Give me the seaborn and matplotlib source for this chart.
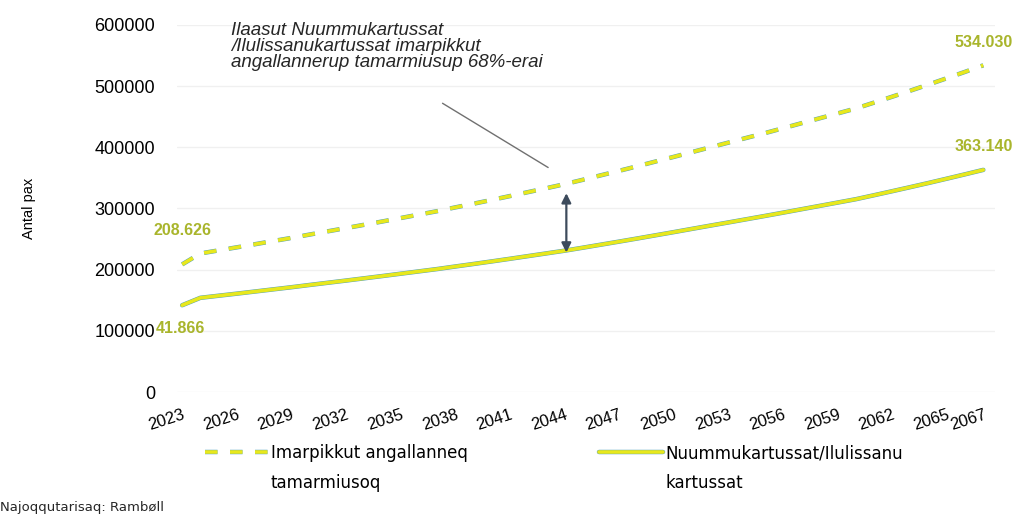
import numpy as np
import pandas as pd
import seaborn as sns
import matplotlib.pyplot as plt
from matplotlib.legend_handler import HandlerTuple

years = list(range(2023, 2068))

# Nuummukartussat / Ilulissanukartussat (solid line)
local_pax = [141866, 154000, 157400, 160800, 164300, 167800, 171300, 175000, 178600, 182200,
             185900, 189600, 193400, 197200, 201000, 205200, 209300, 213500, 217800, 222200,
             226600, 231000, 235900, 240900, 245900, 251000, 256200, 261400, 266700, 272000,
             277200, 282500, 287800, 293200, 298700, 304200, 309700, 315200, 321700, 328300,
             335000, 341800, 348800, 355900, 363140]

# Imarpikkut angallanneq tamarmiusoq (dashed line)
total_pax = [208626, 226500, 231500, 236500, 241600, 246800, 251900, 257400, 262700, 268000,
             273400, 278800, 284400, 290000, 295600, 301800, 307800, 314000, 320300, 326800,
             333200, 339700, 346900, 354300, 361600, 369100, 376800, 384400, 392200, 400000,
             407700, 415500, 423200, 431200, 439300, 447400, 455400, 463500, 473100, 482800,
             492700, 502700, 513000, 523400, 534030]

tick_years = [2023, 2026, 2029, 2032, 2035, 2038, 2041, 2044, 2047, 2050, 2053, 2056,
              2059, 2062, 2065, 2067]
y_ticks = [0, 100000, 200000, 300000, 400000, 500000, 600000]

label_total = ["Imarpikkut angallanneq", "tamarmiusoq"]
label_local = ["Nuummukartussat/Ilulissanu", "kartussat"]
note = "Ilaasut Nuummukartussat\n/Ilulissanukartussat imarpikkut\nangallannerup tamarmiusup 68%-erai"

df = pd.DataFrame({"year": years, "local": local_pax, "total": total_pax})

sns.set_style("white")
plt.rcParams["font.family"] = ["Liberation Sans", "DejaVu Sans"]
plt.rcParams["lines.scale_dashes"] = False

TEAL = "#4f9fbf"
YELLOW = "#e8e81c"
LABEL_COL = "#a9b52c"

fig = plt.figure(figsize=(10.24, 5.15), dpi=100)
ax = fig.add_axes([0.173, 0.2388, 0.799, 0.7127])

dash = (9, 9)
sns.lineplot(data=df, x="year", y="total", ax=ax, color=TEAL, lw=3.2)
sns.lineplot(data=df, x="year", y="total", ax=ax, color=YELLOW, lw=2.6)
sns.lineplot(data=df, x="year", y="local", ax=ax, color=TEAL, lw=3.2)
sns.lineplot(data=df, x="year", y="local", ax=ax, color=YELLOW, lw=2.6)
ax.lines[0].set_dashes(dash)
ax.lines[1].set_dashes(dash)

ax.set_xlim(2022.725, 2067.66)
ax.set_ylim(0, 600000)
ax.set_yticks(y_ticks)
ax.set_yticklabels([str(v) for v in y_ticks])
ax.set_xticks(tick_years)
ax.set_xticklabels([str(y) for y in tick_years], rotation=18, ha="right",
                   rotation_mode="anchor")
ax.tick_params(axis="y", labelsize=13, pad=16, length=0, labelcolor="black")
ax.tick_params(axis="x", labelsize=12, pad=11, length=0, labelcolor="black")
ax.grid(axis="y", color="#f0f0f0", lw=1)
ax.grid(axis="x", visible=False)
sns.despine(ax=ax, left=True, bottom=True)
ax.set_xlabel("")
ax.set_ylabel("Antal pax", fontsize=10.5, labelpad=42, color="black")

# value labels at start and end of the lines
ax.text(df["year"].iloc[0], df["total"].iloc[0] + 56000, "208.626", color=LABEL_COL,
        fontsize=11.5, fontweight="bold", ha="center", va="center")
ax.text(df["year"].iloc[-1], df["total"].iloc[-1] + 38000, "534.030", color=LABEL_COL,
        fontsize=11.5, fontweight="bold", ha="center", va="center")
ax.text(df["year"].iloc[-1], df["local"].iloc[-1] + 38000, "363.140", color=LABEL_COL,
        fontsize=11.5, fontweight="bold", ha="center", va="center")
# the leading "1" of 141.866 is hidden behind the tick label in the original
ax.text(df["year"].iloc[0] - 1.45, 104000, "41.866", color=LABEL_COL,
        fontsize=11.5, fontweight="bold", ha="left", va="center", clip_on=False)

# note with pointer and gap arrow
ax.text(2025.7, 565000, note, fontsize=13.5, style="italic", ha="left", va="center",
        linespacing=0.95)
ax.plot([2037.3, 2043.1], [472000, 367000], color="#707070", lw=1)
ax.annotate("", xy=(2044.1, 325000), xytext=(2044.1, 228000),
            arrowprops=dict(arrowstyle="<|-|>", color="#3d4b5c", lw=1.6,
                            mutation_scale=14, shrinkA=0, shrinkB=0))

# legend below the plot (first line in the legend, second line as text)
h_total = (ax.lines[0], ax.lines[1])
h_local = (ax.lines[2], ax.lines[3])
leg = ax.legend(handles=[h_total, h_local], labels=[label_total[0], label_local[0]],
                handler_map={tuple: HandlerTuple(ndivide=1, pad=0)},
                loc="upper left", bbox_to_anchor=(205 / 1024, 1 - 444 / 515),
                bbox_transform=fig.transFigure, ncol=2, frameon=False,
                prop={"family": "DejaVu Sans", "size": 12}, handlelength=3.8,
                handletextpad=0.15, columnspacing=7.9, borderpad=0, borderaxespad=0)
for t in leg.get_texts():
    t.set_color("black")

fig.canvas.draw()
for t, second in zip(leg.get_texts(), [label_total[1], label_local[1]]):
    bb = t.get_window_extent()
    fig.text(bb.x0 / 1024, (bb.y0 - 30) / 515, second, fontsize=12,
             family="DejaVu Sans", ha="left", va="bottom", color="black")

fig.text(0.0, 0.002, "Najoqqutarisaq: Rambøll", fontsize=9.5, family="DejaVu Sans",
         ha="left", va="bottom")

fig.savefig("out.png", dpi=100)
